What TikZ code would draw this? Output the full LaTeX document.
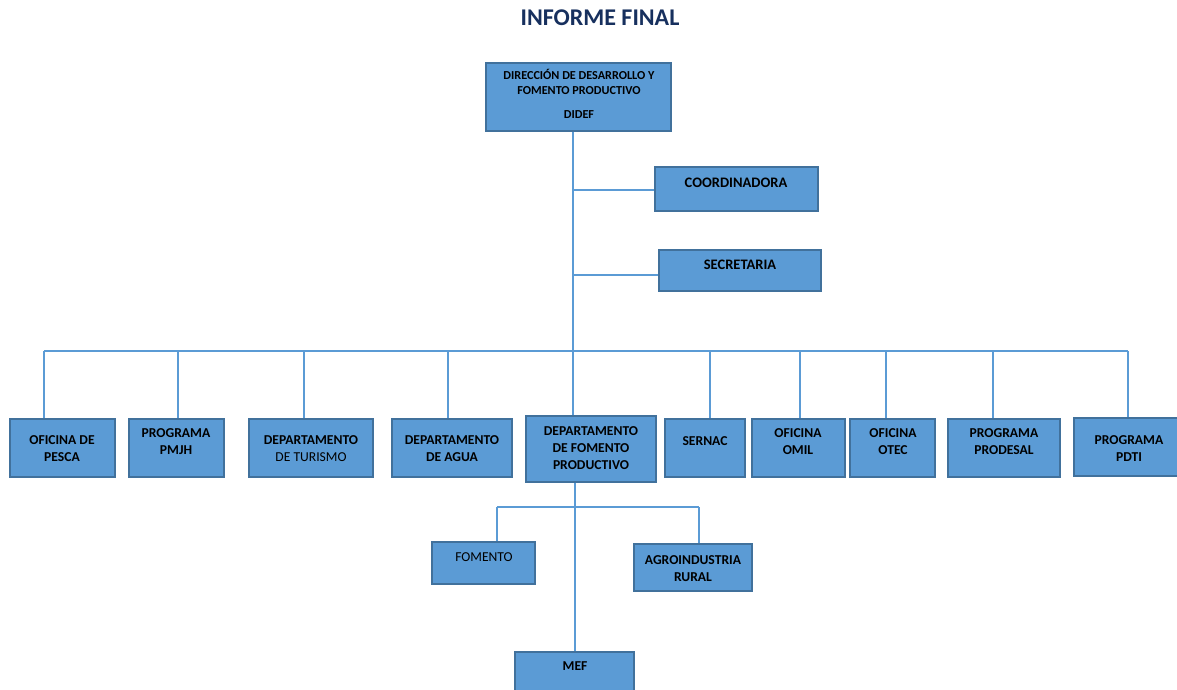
\documentclass[tikz,border=0pt]{standalone}
\usepackage{fontspec}
\setmainfont{Carlito}
\definecolor{boxfill}{HTML}{5B9BD5}
\definecolor{boxedge}{HTML}{41719C}
\definecolor{titlec}{HTML}{17305E}
\definecolor{linec}{HTML}{5B9BD5}
\tikzset{
  box/.style={draw=boxedge, fill=boxfill, line width=1.2pt, inner sep=0pt},
  txt/.style={align=center, font=\fontsize{13.6}{17}\selectfont\bfseries, text=black, inner sep=0pt},
  conn/.style={draw=linec, line width=2pt},
}
\newcommand{\boxat}[5]{% name, x1, y1, x2, y2
  \node[box, minimum width={(#4-#2)*1pt}, minimum height={(#5-#3)*1pt}] (#1) at ({(#2+#4)/2},{(#3+#5)/2}) {};}
\begin{document}
\begin{tikzpicture}[x=1pt,y=-1pt]
\useasboundingbox (0,0) rectangle (1177,689);
\node[font=\fontsize{24}{28}\selectfont\bfseries, text=titlec] (title) at (600,18) {INFORME FINAL};

\coordinate (bus) at (573,351);
\coordinate (b1) at (573,190);
\coordinate (b2) at (573,275);
\coordinate (sub) at (575,507);
\coordinate (busL) at (44,351);
\coordinate (busR) at (1128,351);
\coordinate (subL) at (497,507);
\coordinate (subR) at (699,507);

% boxes
\boxat{didef}{486}{63}{671}{131}
\boxat{coord}{655}{167}{818}{211}
\boxat{secr}{659}{250}{821}{291}
\boxat{pesca}{10}{419}{115}{477}
\boxat{pmjh}{129}{419}{224}{477}
\boxat{turismo}{249}{419}{373}{477}
\boxat{agua}{392}{419}{512}{477}
\boxat{dfp}{526}{416}{656}{482}
\boxat{sernac}{665}{419}{745}{477}
\boxat{omil}{752}{419}{845}{477}
\boxat{otec}{850}{419}{935}{477}
\boxat{prodesal}{948}{419}{1060}{477}
\boxat{pdti}{1074}{418}{1180}{476}
\boxat{fomento}{432}{542}{535}{584}
\boxat{agro}{634}{544}{752}{591}
\boxat{mef}{515}{652}{634}{695}

% connectors
\draw[conn] (didef.south -| bus) -- (dfp.north -| bus);
\draw[conn] (b1) -- (b1 -| coord.west);
\draw[conn] (b2) -- (b2 -| secr.west);
\draw[conn] (busL) -- (busR);
\foreach \n/\x in {pesca/44, pmjh/178, turismo/304, agua/448, sernac/710, omil/800, otec/886, prodesal/993, pdti/1128}{
  \coordinate (d\n) at (\x,351);
  \draw[conn] (d\n) -- (d\n |- \n.north);
}
\draw[conn] (dfp.south -| sub) -- (mef.north -| sub);
\draw[conn] (subL) -- (subR);
\draw[conn] (subL) -- (subL |- fomento.north);
\draw[conn] (subR) -- (subR |- agro.north);

% texts
\node[txt, font=\fontsize{12.2}{15}\selectfont\bfseries] (tdidef) at (579,82) {DIRECCIÓN DE DESARROLLO Y\\FOMENTO PRODUCTIVO};
\node[txt, font=\fontsize{12.2}{15}\selectfont\bfseries] (tdidef2) at (579,115) {DIDEF};
\node[txt, font=\fontsize{14.5}{17}\selectfont\bfseries] (tcoord) at (736,183) {COORDINADORA};
\node[txt, font=\fontsize{14.5}{17}\selectfont\bfseries] (tsecr) at (740,265) {SECRETARIA};
\node[txt] (tpesca) at (62,448.5) {OFICINA DE\\PESCA};
\node[txt] (tpmjh) at (176,441.5) {PROGRAMA\\PMJH};
\node[txt] (tturismo) at (311,448.5) {DEPARTAMENTO\\\mdseries DE TURISMO};
\node[txt] (tagua) at (452,448.5) {DEPARTAMENTO\\DE AGUA};
\node[txt] (tdfp) at (591,448.5) {DEPARTAMENTO\\DE FOMENTO\\PRODUCTIVO};
\node[txt] (tsernac) at (705,441) {SERNAC};
\node[txt] (tomil) at (798,441.5) {OFICINA\\OMIL};
\node[txt] (totec) at (893,441.5) {OFICINA\\OTEC};
\node[txt] (tprodesal) at (1004,441.5) {PROGRAMA\\PRODESAL};
\node[txt] (tpdti) at (1129,448.5) {PROGRAMA\\PDTI};
\node[txt, font=\fontsize{13.6}{17}\selectfont] (tfomento) at (484,557) {FOMENTO};
\node[txt] (tagro) at (693,568.5) {AGROINDUSTRIA\\RURAL};
\node[txt] (tmef) at (575,666) {MEF};
\end{tikzpicture}
\end{document}
